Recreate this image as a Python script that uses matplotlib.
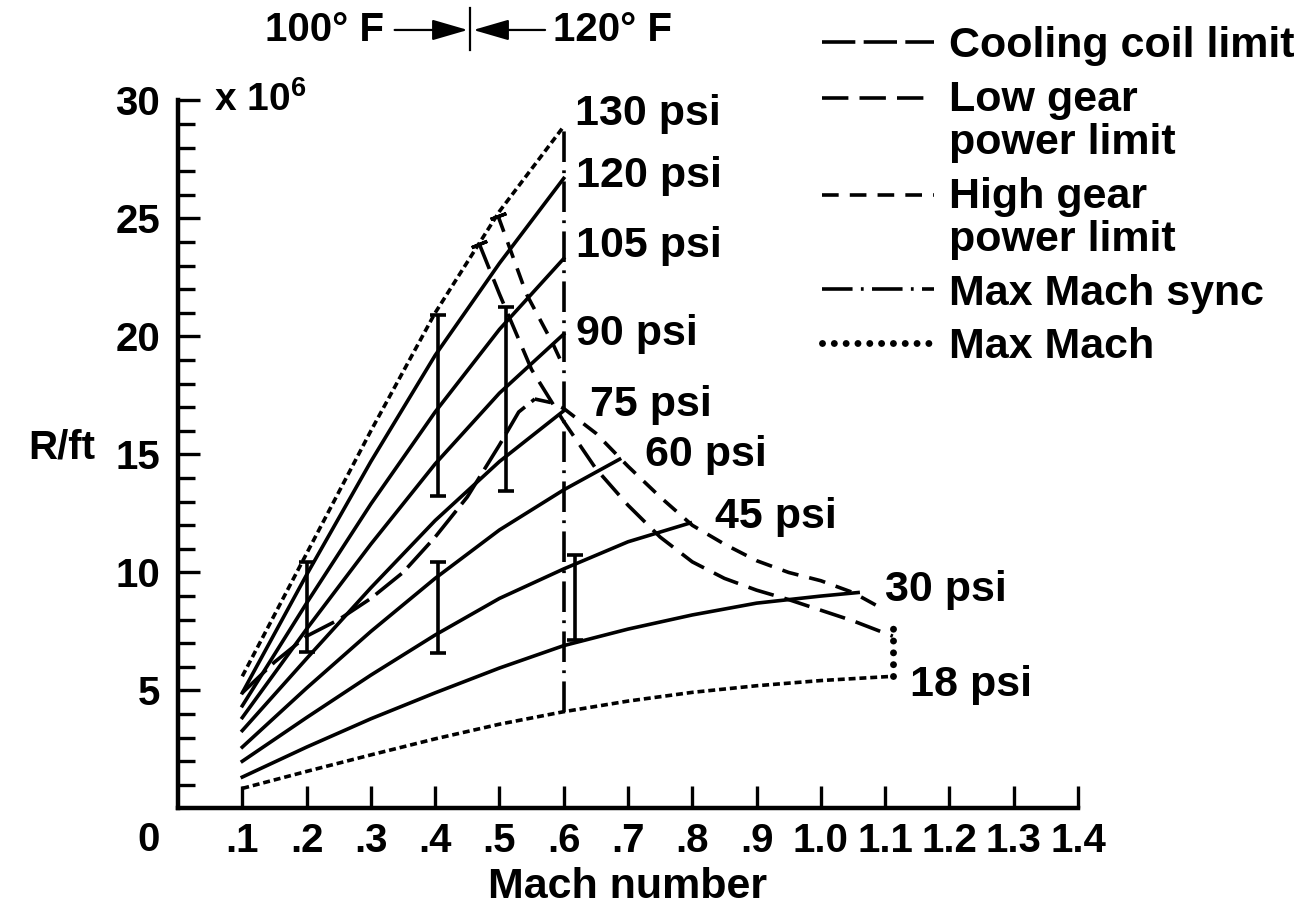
import matplotlib
matplotlib.use("Agg")
import matplotlib.pyplot as plt
import numpy as np
from matplotlib.legend_handler import HandlerLine2D

plt.rcParams['font.family'] = ['Liberation Sans', 'DejaVu Sans']
plt.rcParams['font.weight'] = 'bold'
plt.rcParams['axes.labelweight'] = 'bold'
plt.rcParams['mathtext.fontset'] = 'custom'
plt.rcParams['mathtext.rm'] = 'Liberation Sans:bold'
plt.rcParams['mathtext.it'] = 'Liberation Sans:bold'
plt.rcParams['mathtext.bf'] = 'Liberation Sans:bold'
plt.rcParams['lines.scale_dashes'] = False

# ---- data (Reynolds number per ft, x 10^6) ----
mach_base = [0.1, 0.2, 0.3, 0.4, 0.5, 0.6]
re_130 = [5.6, 10.8, 16.0, 21.0, 25.3, 28.9]
re_120 = [4.9, 9.9, 14.7, 19.2, 23.1, 26.7]
re_105 = [4.35, 8.7, 12.9, 16.8, 20.3, 23.3]
re_90 = [3.85, 7.6, 11.2, 14.6, 17.6, 20.1]
re_75 = [3.3, 6.35, 9.35, 12.2, 14.7, 16.85]
mach_60 = [0.1, 0.2, 0.3, 0.4, 0.5, 0.6, 0.687]
re_60 = [2.6, 5.1, 7.5, 9.75, 11.8, 13.5, 14.8]
mach_45 = [0.1, 0.2, 0.3, 0.4, 0.5, 0.6, 0.7, 0.797]
re_45 = [2.0, 3.85, 5.65, 7.35, 8.9, 10.15, 11.3, 12.1]
mach_30 = [0.1, 0.2, 0.3, 0.4, 0.5, 0.6, 0.7, 0.8, 0.9, 1.0, 1.058]
re_30 = [1.33, 2.6, 3.8, 4.9, 5.95, 6.9, 7.6, 8.2, 8.7, 9.0, 9.15]
mach_18 = [0.1, 0.2, 0.3, 0.4, 0.5, 0.6, 0.7, 0.8, 0.9, 1.0, 1.112]
re_18 = [0.85, 1.57, 2.27, 2.95, 3.57, 4.1, 4.55, 4.92, 5.2, 5.42, 5.6]

# limits
mach_cool = [0.1, 0.15, 0.2, 0.25, 0.3, 0.35, 0.4, 0.45, 0.5, 0.53, 0.555]
re_cool = [4.9, 6.2, 7.3, 8.0, 8.9, 10.0, 11.5, 13.2, 15.4, 16.8, 17.35]
mach_low = [0.469, 0.5, 0.55, 0.6, 0.65, 0.7, 0.75, 0.8, 0.85, 0.9, 0.95, 1.0, 1.05, 1.112]
re_low = [23.9, 21.8, 18.6, 16.4, 14.4, 12.85, 11.5, 10.45, 9.75, 9.25, 8.85, 8.4, 7.95, 7.3]
mach_high = [0.555, 0.58, 0.6, 0.65, 0.7, 0.75, 0.8, 0.85, 0.9, 0.95, 1.0, 1.05, 1.1]
re_high = [17.35, 17.2, 16.95, 15.9, 14.5, 13.2, 12.0, 11.2, 10.5, 10.0, 9.65, 9.15, 8.4]
mach_high2 = [0.498, 0.542, 0.583, 0.6]
re_high2 = [25.1, 21.8, 19.7, 18.7]
sync_mach = [0.6, 0.6]
sync_re = [4.1, 28.9]
maxmach_mach = [1.112, 1.112]
maxmach_re = [5.6, 7.7]

# vertical bars
bar_mach = [0.2, 0.405, 0.405, 0.51, 0.617]
bar_lo = [6.65, 13.25, 6.6, 13.45, 7.15]
bar_hi = [10.45, 20.9, 10.45, 21.25, 10.75]

psi_labels = ['130 psi', '120 psi', '105 psi', '90 psi', '75 psi',
              '60 psi', '45 psi', '30 psi', '18 psi']
xtick_vals = [0.1, 0.2, 0.3, 0.4, 0.5, 0.6, 0.7, 0.8, 0.9, 1.0, 1.1, 1.2, 1.3, 1.4]
xtick_text = ['.1', '.2', '.3', '.4', '.5', '.6', '.7', '.8', '.9',
              '1.0', '1.1', '1.2', '1.3', '1.4']
temp_boundary = 0.455


class FirstLineHandler(HandlerLine2D):
    # puts the legend sample beside the first line of a two line label
    def __init__(self, shift, **kw):
        super().__init__(**kw)
        self.shift = shift

    def create_artists(self, legend, orig_handle, xdescent, ydescent, width,
                       height, fontsize, trans):
        arts = super().create_artists(legend, orig_handle, xdescent, ydescent,
                                      width, height, fontsize, trans)
        for a in arts:
            a.set_ydata(np.asarray(a.get_ydata()) + self.shift)
        return arts


fig = plt.figure(figsize=(13.06, 9.16), dpi=100)
ax = fig.add_axes([0.1363, 0.1174, 0.6891, 0.7729])

lw = 2.6
fs = 29
dotted = (0, (5, 2.8))
ax.plot(mach_base, re_130, color='k', lw=2.6, ls=dotted, dash_capstyle='butt')
ax.plot(mach_18, re_18, color='k', lw=2.6, ls=dotted, dash_capstyle='butt')
for y in [re_120, re_105, re_90, re_75]:
    ax.plot(mach_base, y, color='k', lw=lw)
ax.plot(mach_60, re_60, color='k', lw=lw)
ax.plot(mach_45, re_45, color='k', lw=lw)
ax.plot(mach_30, re_30, color='k', lw=lw)

cool, = ax.plot(mach_cool, re_cool, color='k', lw=lw, ls=(0, (24, 6)),
                label='Cooling coil limit')
low, = ax.plot(mach_low, re_low, color='k', lw=lw, ls=(0, (19, 8)),
               label='Low gear\npower limit')
high, = ax.plot(mach_high, re_high, color='k', lw=lw, ls=(0, (12, 8)),
                label='High gear\npower limit')
ax.plot(mach_high2, re_high2, color='k', lw=lw, ls=(0, (12, 8)))
sync, = ax.plot(sync_mach, sync_re, color='k', lw=lw, ls=(0, (22, 6, 2, 6)),
                label='Max Mach sync')
mm, = ax.plot(maxmach_mach, maxmach_re, color='k', lw=5, ls=(0, (0.01, 8.5)),
              dash_capstyle='round', label='Max Mach')

# caps at the top of the steep limit lines
ax.plot(mach_low[0], re_low[0], marker=(2, 2, -67.7), ms=12, mew=2.4, color='k')
ax.plot(mach_high2[0], re_high2[0], marker=(2, 2, -69.7), ms=12, mew=2.4, color='k')

mid = [(a + b) / 2 for a, b in zip(bar_lo, bar_hi)]
half = [(b - a) / 2 for a, b in zip(bar_lo, bar_hi)]
ax.errorbar(bar_mach, mid, yerr=half, fmt='none', ecolor='k', elinewidth=2.6,
            capsize=5.5, capthick=2.6)

# pressure labels at the end of each curve
ends = [(mach_base[-1], re_130[-1]), (mach_base[-1], re_120[-1]),
        (mach_base[-1], re_105[-1]), (mach_base[-1], re_90[-1]),
        (mach_base[-1], re_75[-1]), (mach_60[-1], re_60[-1]),
        (mach_45[-1], re_45[-1]), (mach_30[-1], re_30[-1]),
        (mach_18[-1], re_18[-1])]
offs = [(8, 9), (9, 2), (9, 9), (9, 0), (19, 4), (18, 3), (18, 4), (19, 2), (12, -6)]
for lab, (x, y), (dx, dy) in zip(psi_labels, ends, offs):
    ax.annotate(lab, xy=(x, y), xytext=(dx, dy), textcoords='offset points',
                ha='left', va='center', fontsize=31)

ax.set_xlim(0, 1.4)
ax.set_ylim(0, 30)
for s in ['top', 'right']:
    ax.spines[s].set_visible(False)
for s in ['left', 'bottom']:
    ax.spines[s].set_linewidth(3.2)

ax.set_xticks(xtick_vals, xtick_text)
ax.set_yticks([5, 10, 15, 20, 25, 30])
ax.set_yticks(range(1, 30), minor=True)
ax.tick_params(axis='both', which='major', direction='in', length=16, width=2.4,
               labelsize=fs)
ax.tick_params(axis='y', which='major', pad=13)
ax.tick_params(axis='x', which='major', pad=10)
ax.tick_params(axis='y', which='minor', direction='in', length=12, width=2.4)

ax.annotate('0', xy=(0, 0), xytext=(-21, -23), textcoords='offset points',
            ha='center', va='center', fontsize=fs)
ax.annotate(r'x 10$^6$', xy=(0, 30), xytext=(26, 0), textcoords='offset points',
            ha='left', va='center', fontsize=28, annotation_clip=False)

ax.set_ylabel('R/ft', rotation=0, fontsize=29, ha='center', va='center')
ax.yaxis.set_label_coords(-0.129, 0.51)
ax.set_xlabel('Mach number', fontsize=31)
ax.xaxis.set_label_coords(0.5, -0.082)

# temperature boundary on top
tr = ax.get_xaxis_transform()
ax.plot([temp_boundary, temp_boundary], [1.071, 1.13], transform=tr,
        color='k', lw=1.6, clip_on=False)
arrow = dict(arrowstyle='-|>,head_length=1.1,head_width=0.32', color='k', lw=1.6,
             mutation_scale=20, shrinkA=0, shrinkB=2)
ax.annotate('', xy=(temp_boundary, 1.0996), xytext=(0.337, 1.0996),
            xycoords=tr, textcoords=tr, arrowprops=arrow, annotation_clip=False)
ax.annotate('', xy=(temp_boundary, 1.0996), xytext=(0.571, 1.0996),
            xycoords=tr, textcoords=tr, arrowprops=arrow, annotation_clip=False)
ax.annotate('100° F', xy=(0.321, 1.0996), xycoords=tr, ha='right', va='center',
            fontsize=fs, annotation_clip=False)
ax.annotate('120° F', xy=(0.584, 1.0996), xycoords=tr, ha='left', va='center',
            fontsize=fs, annotation_clip=False)

hmap = {low: FirstLineHandler(17), high: FirstLineHandler(17)}
leg = ax.legend(handles=[cool, low, high, sync, mm], handler_map=hmap,
                loc='upper left', bbox_to_anchor=(822 / 1306, 1 - 26 / 916),
                bbox_transform=fig.transFigure, frameon=False, fontsize=31,
                handlelength=2.6, handletextpad=0.35, labelspacing=0.32,
                borderpad=0, borderaxespad=0)
for t in leg.get_texts():
    t.set_linespacing(1.1)

fig.savefig('out.png', dpi=100)
